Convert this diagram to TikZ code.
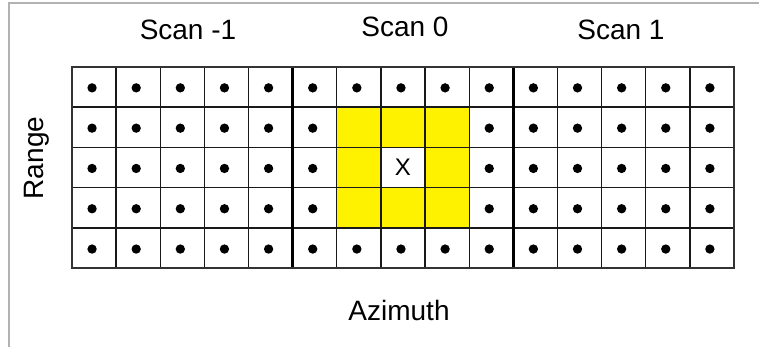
\documentclass[tikz,border=0pt]{standalone}
\usepackage{fontspec}
\setmainfont{Liberation Sans}

\tikzset{
  cell/.style={draw=black!90, line width=1pt, minimum width=33.1pt, minimum height=30.2pt, inner sep=0pt, outer sep=0pt},
  hot/.style={cell, fill=yellow},
  label/.style={font=\fontsize{21}{24}\selectfont},
}

\begin{document}
\begin{tikzpicture}[x=0.75pt,y=-0.75pt]
\useasboundingbox (0,0) rectangle (759,347);
% frame (cut off at right and bottom)
\draw[black!30, line width=0.8pt] (9,347) -- (9,3) -- (759,3);
% Define the cells
\foreach \c in {0,...,14}
  \foreach \r in {0,...,4} {
    \pgfmathtruncatemacro{\inner}{(\c>5)&&(\c<9)&&(\r>0)&&(\r<4)}
    \pgfmathtruncatemacro{\mid}{(\c==7)&&(\r==2)}
    \ifnum\mid=1
      \node[cell, font=\fontsize{18}{20}\selectfont] (c-\c-\r) at ({72+44.13*(\c+0.5)},{66.7+40.3*(\r+0.5)}) {X};
    \else\ifnum\inner=1
      \node[hot] (c-\c-\r) at ({72+44.13*(\c+0.5)},{66.7+40.3*(\r+0.5)}) {};
    \else
      \node[cell] (c-\c-\r) at ({72+44.13*(\c+0.5)},{66.7+40.3*(\r+0.5)}) {};
      \fill ([shift={(-2,1)}]c-\c-\r.center) circle [radius=3.5pt];
    \fi\fi
  }
% Draw the scan borders
\draw[black, line width=2pt] (c-5-0.north west) -- (c-5-4.south west);
\draw[black, line width=2pt] (c-10-0.north west) -- (c-10-4.south west);
\draw[black!80, line width=1.4pt] (c-0-0.north west) rectangle (c-14-4.south east);
% Labels
\node[label] (scanm) at (188,30) {Scan -1};
\node[label] (scan0) at (405,27) {Scan 0};
\node[label] (scanp) at (621,30) {Scan 1};
\node[label, rotate=90] (range) at (37,158) {Range};
\node[label] (azim) at (399,310) {Azimuth};
\end{tikzpicture}
\end{document}
